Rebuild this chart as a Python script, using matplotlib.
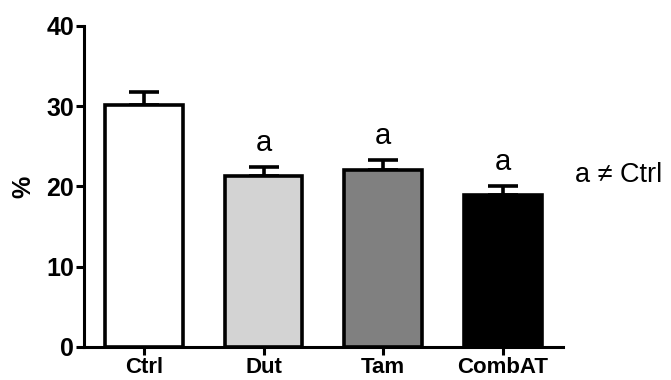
import numpy as np
import matplotlib.pyplot as plt

# 数据
groups = ['Ctrl', 'Dut', 'Tam', 'CombAT']
means = [30.1, 21.3, 22.0, 18.9]
sem = [1.6, 1.15, 1.3, 1.1]
sig = ['', 'a', 'a', 'a']
colors = ['white', '#d3d3d3', '#808080', 'black']

plt.rcParams['font.family'] = ['Liberation Sans', 'DejaVu Sans']

fig = plt.figure(figsize=(6.71, 3.8), dpi=100)
ax = fig.add_axes([0.125, 0.087, 0.714, 0.845])

x = np.arange(len(groups))
lw = 2.6
ax.bar(x, means, width=0.65, color=colors, edgecolor='black', linewidth=lw, zorder=3)
ax.errorbar(x, means, yerr=[np.zeros(len(sem)), sem], fmt='none', ecolor='black',
            elinewidth=lw, capsize=10.5, capthick=lw, zorder=2)

# 显著性标记
for xi, m, s, t in zip(x, means, sem, sig):
    if t:
        ax.text(xi, m + s + 2.0, t, ha='center', va='baseline', fontsize=21)

fig.text(0.857, 0.54, 'a \u2260 Ctrl', ha='left', va='center', fontsize=19.5)

ax.set_xlim(-0.5, 3.5)
ax.set_ylim(0, 40)
ax.set_yticks([0, 10, 20, 30, 40])
ax.set_xticks(x)
ax.set_xticklabels(groups, fontsize=16, fontweight='bold')
for lab in ax.get_yticklabels():
    lab.set_fontsize(18)
    lab.set_fontweight('bold')
ax.set_ylabel('%', fontsize=18, fontweight='bold', labelpad=8)

for side in ['top', 'right']:
    ax.spines[side].set_visible(False)
for side in ['left', 'bottom']:
    ax.spines[side].set_linewidth(2.2)
ax.tick_params(width=2.2, length=6)
ax.tick_params(axis='y', pad=1)
ax.tick_params(axis='x', pad=1)

fig.savefig('out.png', dpi=100)
